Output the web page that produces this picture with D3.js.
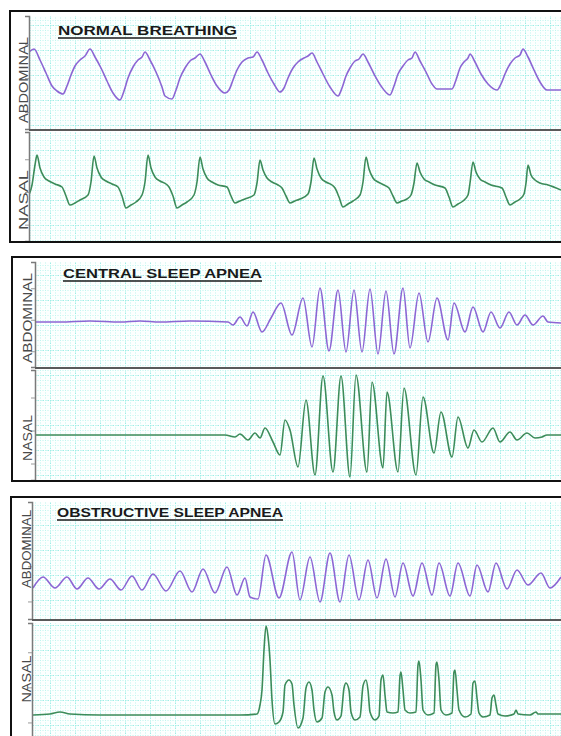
<!DOCTYPE html>
<html><head><meta charset="utf-8">
<script src="https://cdn.jsdelivr.net/npm/d3@7"></script>
<style>html,body{margin:0;padding:0;background:#fff;}svg{display:block}</style>
</head><body><svg id="c" width="561" height="736"></svg>
<script>
// ---- text ----
const titles = ["NORMAL BREATHING", "CENTRAL SLEEP APNEA", "OBSTRUCTIVE SLEEP APNEA"];
const channels = ["ABDOMINAL", "NASAL"];

// ---- traces: [time, amplitude] ----
const normalAbdominal = [[0,77],[5,80],[11,69],[17,56],[23,43],[28,38],[34,35],[38,43],[42,54],[46,63],[51,69],[56,73],[61,80],[66,72],[72,61],[78,48],[84,36],[91,29],[95,38],[99,51],[104,62],[109,69],[113,72],[116,77],[121,69],[127,57],[133,42],[136,33],[143,30],[147,39],[151,51],[156,61],[161,68],[166,71],[171,75],[176,67],[182,54],[188,43],[196,36],[200,39],[204,49],[208,59],[213,67],[219,71],[224,72],[228,77],[233,69],[239,56],[245,45],[251,37],[255,41],[259,51],[264,61],[269,67],[275,71],[279,73],[283,76],[288,67],[294,55],[301,42],[309,33],[313,41],[317,53],[321,61],[326,68],[330,70],[334,75],[339,67],[345,55],[352,43],[361,34],[365,43],[369,55],[374,63],[379,69],[383,71],[386,77],[391,68],[397,57],[403,45],[408,40],[423,40],[427,49],[431,61],[435,67],[439,71],[441,75],[446,67],[452,55],[459,45],[468,39],[472,45],[476,55],[481,65],[486,71],[491,74],[494,80],[499,72],[505,59],[511,47],[518,39],[532,39]];

const normalNasal = [[0,46],[3,56],[6,76],[8,86],[11,73],[15,64],[20,60],[26,57],[33,54],[37,45],[41,36],[46,38],[51,41],[59,46],[62,59],[65,85],
[68,73],[72,64],[77,60],[83,57],[89,54],[93,45],[97,33],[102,36],[107,39],[113,46],[116,59],[119,86],
[122,73],[126,64],[131,60],[137,57],[140,54],[144,45],[148,33],[153,36],[158,39],[165,46],[168,59],[171,84],
[174,72],[178,63],[183,59],[189,56],[198,54],[202,45],[206,38],[211,40],[216,42],[225,46],[228,58],[231,81],
[234,71],[238,63],[243,59],[249,56],[253,53],[257,45],[261,38],[266,40],[271,42],[279,47],[282,59],[285,83],
[288,72],[292,63],[297,59],[303,56],[306,53],[310,44],[314,34],[319,37],[324,40],[331,46],[334,59],[337,84],
[340,72],[344,63],[349,59],[355,56],[360,53],[364,45],[368,38],[373,40],[378,42],[382,46],[385,58],[388,78],
[391,69],[395,62],[400,59],[406,56],[416,53],[420,44],[424,34],[429,37],[434,40],[439,46],[441,58],[444,79],
[447,69],[451,62],[456,59],[462,56],[473,53],[477,44],[481,36],[486,39],[491,42],[495,47],[497,58],[499,76],
[502,66],[506,61],[511,58],[519,56],[532,51]];

const centralAbdominal = [[0,45],[25,45],[55,46],[85,45],[105,46],[125,45],[155,46],[193,45],[198,42],[205,50],[212,41],[218,55],[227,35],[236,49],[246,64],[257,32],[268,69],[277,20],[285,79],[294,16],[303,77],[311,15],[319,77],[327,15],[335,78],[343,13],[351,76],[359,13],[368,79],[375,19],[384,74],[393,25],[402,69],[413,27],[419,64],[430,35],[438,60],[448,35],[456,55],[465,39],[474,55],[482,42],[490,52],[498,42],[508,51],[513,45],[526,44]];

const centralNasal = [[0,45],[30,45],[60,45],[100,45],[140,45],[170,45],[190,45],[200,43],[205,46],[213,40],[220,47],[225,42],[230,52],[238,38],[245,25],[250,60],[255,50],[263,13],[271,80],[280,5],[288,104],[298,8],[306,104],[315,3],[321,105],[332,8],[337,98],[348,12],[352,88],[363,8],[369,92],[381,5],[388,83],[399,27],[406,68],[417,23],[423,63],[433,32],[439,50],[447,38],[458,52],[465,38],[475,48],[482,40],[492,47],[500,42],[507,43],[512,45],[526,45]];

const obstructiveAbdominal = [[1,31],[11,42],[23,31],[35,42],[45,30],[56,41],[67,30],[78,40],[89,29],[100,43],[110,29],[121,45],[134,28],[148,48],[160,27],[171,50],[183,26],[195,52],[205,24],[213,41],[218,22],[226,20],[234,64],[247,21],[260,67],[268,19],[278,62],[288,17],[298,66],[308,17],[317,64],[327,19],[336,59],[345,21],[354,60],[363,22],[371,56],[381,23],[390,56],[400,24],[407,56],[418,23],[426,56],[438,23],[445,54],[456,27],[464,56],[475,30],[485,49],[496,34],[509,46],[518,31],[529,42]];

const obstructiveNasal = [[1,25],[18,26],[28,28],[38,26],[68,25],[118,25],[168,25],[208,25],[225,26],[228,35],[230,50],[232,90],[234,114],[236,104],[238,80],[240,40],[243,16],[247,18],[251,28],[253,55],[257,60],[260,56],[262,35],[266,12],[271,22],[274,52],[277,58],[280,50],[282,30],[285,18],[290,22],[293,48],[296,53],[300,45],[302,28],[305,20],[309,24],[312,52],[314,57],[317,50],[319,28],[323,20],[328,23],[331,54],[334,60],[336,50],[338,28],[343,20],[347,24],[349,60],[351,65],[353,45],[355,28],[361,27],[366,28],[368,64],[369,68],[371,50],[373,30],[378,27],[384,28],[386,75],[387,79],[389,60],[391,30],[396,25],[402,27],[404,75],[405,78],[407,60],[409,30],[414,25],[420,27],[422,68],[423,70],[425,50],[427,30],[433,23],[439,26],[441,57],[443,59],[445,42],[447,27],[451,23],[458,25],[460,42],[462,45],[464,35],[466,26],[473,24],[482,26],[484,30],[486,26],[498,25],[504,28],[506,26],[529,26]];

const traces = [[normalAbdominal, normalNasal],[centralAbdominal, centralNasal],[obstructiveAbdominal, obstructiveNasal]];

// ---- layout ----
const layout = [
  {fx:10, fy:11, fh:231, ax:29, abd:[16,129], nas:[132,241], tx:58, ty:35, tw:179,
   labA:{x:28, y:80, len:86}, labN:{x:28, y:200, len:60}},
  {fx:12, fy:257, fh:224, ax:35, abd:[262,367], nas:[370,480], tx:63, ty:278, tw:199,
   labA:{x:32, y:318, len:90}, labN:{x:32, y:438, len:46}},
  {fx:11, fy:497, fh:260, ax:32, abd:[502,619], nas:[623,740], tx:57, ty:517, tw:226,
   labA:{x:31, y:549, len:78}, labN:{x:31, y:679, len:47}}
];
const colors = ["#8c66d4", "#3c8c5a"];
const W = 561;

const svg = d3.select("#c");
const defs = svg.append("defs");
const pat = defs.append("pattern").attr("id","grid").attr("patternUnits","userSpaceOnUse")
  .attr("width",25).attr("height",25);
pat.append("rect").attr("width",25).attr("height",25).attr("fill","#fcfffe");
for (let i = 0; i < 5; i++) {
  const major = i === 0;
  const col = major ? "#9cede5" : "#bff5ef";
  pat.append("line").attr("x1", i*5+0.5).attr("x2", i*5+0.5).attr("y1",0).attr("y2",25)
    .attr("stroke", col).attr("stroke-width",1)
    .attr("stroke-dasharray", major ? "1.5,1" : "1,1.5");
  pat.append("line").attr("y1", i*5+0.5).attr("y2", i*5+0.5).attr("x1",0).attr("x2",25)
    .attr("stroke", col).attr("stroke-width",1)
    .attr("stroke-dasharray", major ? "1.5,1" : "1,1.5");
}

layout.forEach((L, p) => {
  const g = svg.append("g");
  // plot background
  [L.abd, L.nas].forEach((r, c) => {
    g.append("rect").attr("x", L.ax).attr("y", r[0]).attr("width", W + 20 - L.ax).attr("height", r[1]-r[0])
      .attr("fill","url(#grid)");
  });
  const x = d3.scaleLinear().domain([0, 532]).range([L.ax, L.ax + 532]);
  [L.abd, L.nas].forEach((r, c) => {
    const H = r[1] - r[0];
    const y = d3.scaleLinear().domain([0, H]).range([r[1], r[0]]);
    const cid = `clip${p}${c}`;
    defs.append("clipPath").attr("id", cid).append("rect")
      .attr("x", L.ax).attr("y", r[0]).attr("width", W - L.ax + 10).attr("height", H);
    const line = d3.line().x(d => x(d[0])).y(d => y(d[1])).curve(d3.curveMonotoneX);
    g.append("path").datum(traces[p][c]).attr("d", line)
      .attr("fill","none").attr("stroke", colors[c]).attr("stroke-width",1.6)
      .attr("stroke-linejoin","round").attr("clip-path", `url(#${cid})`);
    // left axis with small ticks
    const ax = d3.axisLeft(y).tickValues([H*0.15, H*0.45, H*0.75]).tickSize(4).tickFormat("");
    const ag = g.append("g").attr("transform", `translate(${L.ax},0)`).call(ax);
    ag.select(".domain").attr("stroke","#7a7a7a").attr("stroke-width",1.5);
    ag.selectAll(".tick line").attr("stroke","#9a9a9a");
    // channel label
    const lab = c === 0 ? L.labA : L.labN;
    g.append("text").attr("transform", `translate(${lab.x},${lab.y}) rotate(-90)`)
      .attr("text-anchor","middle").attr("font-family","'Liberation Sans', Arial, sans-serif")
      .attr("font-size",13).attr("fill","#4a4a4a")
      .attr("textLength", lab.len).attr("lengthAdjust","spacingAndGlyphs")
      .text(channels[c]);
  });
  // separator between channels
  g.append("line").attr("x1", L.ax).attr("x2", W + 10).attr("y1", L.abd[1] + 1).attr("y2", L.abd[1] + 1)
    .attr("stroke","#5a5a5a").attr("stroke-width",2);
  // frame
  g.append("rect").attr("x", L.fx).attr("y", L.fy).attr("width", W + 20 - L.fx).attr("height", L.fh)
    .attr("fill","none").attr("stroke","#111").attr("stroke-width",2);
  // title
  g.append("text").attr("x", L.tx).attr("y", L.ty)
    .attr("font-family","'Liberation Sans', Arial, sans-serif").attr("font-weight","bold")
    .attr("font-size",13).attr("fill","#1a1a1a")
    .attr("textLength", L.tw).attr("lengthAdjust","spacingAndGlyphs")
    .text(titles[p]);
  g.append("line").attr("x1", L.tx).attr("x2", L.tx + L.tw).attr("y1", L.ty + 3).attr("y2", L.ty + 3)
    .attr("stroke","#1a1a1a").attr("stroke-width",1.6);
});
</script></body></html>
